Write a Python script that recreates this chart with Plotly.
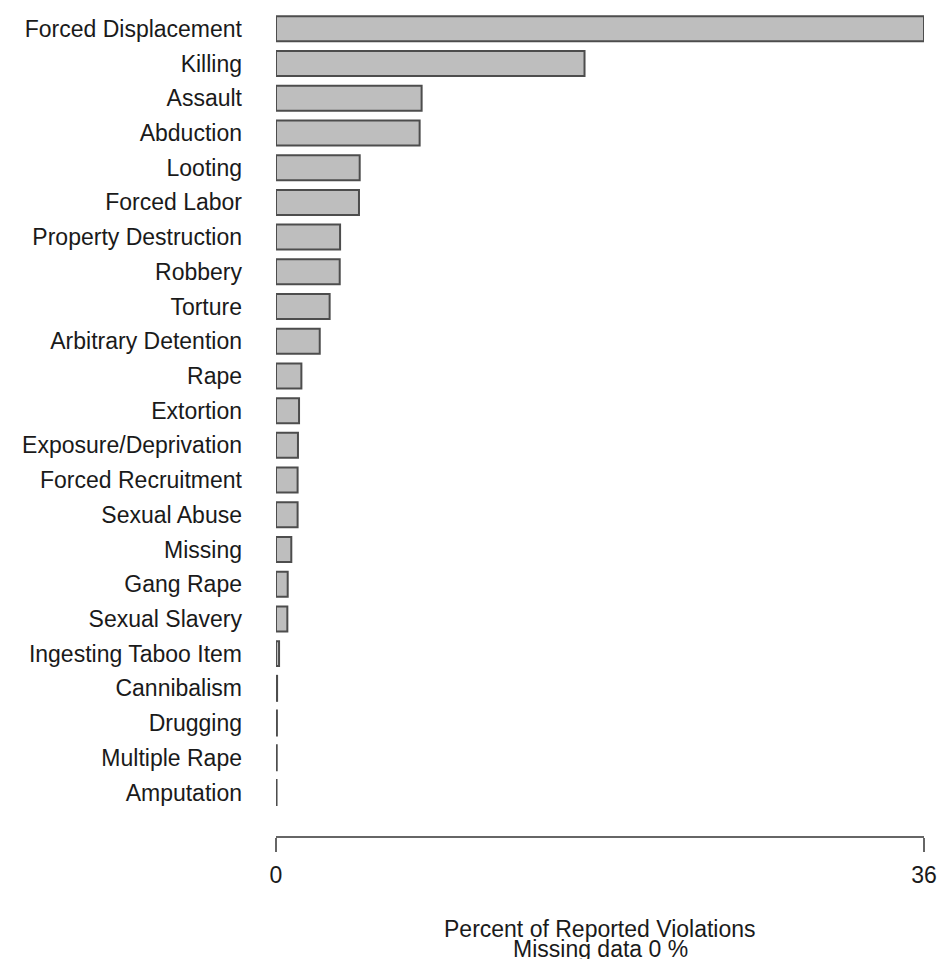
import plotly.graph_objects as go

categories = [
    "Forced Displacement", "Killing", "Assault", "Abduction", "Looting",
    "Forced Labor", "Property Destruction", "Robbery", "Torture",
    "Arbitrary Detention", "Rape", "Extortion", "Exposure/Deprivation",
    "Forced Recruitment", "Sexual Abuse", "Missing", "Gang Rape",
    "Sexual Slavery", "Ingesting Taboo Item", "Cannibalism", "Drugging",
    "Multiple Rape", "Amputation",
]
values = [
    36.0, 17.14, 8.09, 7.98, 4.65,
    4.61, 3.56, 3.54, 2.98,
    2.43, 1.41, 1.28, 1.22,
    1.20, 1.20, 0.85, 0.65,
    0.63, 0.17, 0.06, 0.05,
    0.04, 0.03,
]
tick_vals = [0, 36]
tick_text = ["0", "36"]
title_lines = ["Percent of Reported Violations", "Missing data 0 %"]

FONT = "Liberation Sans, Arial, Helvetica, sans-serif"
TXT = "#1a1a1a"

fig = go.Figure(
    go.Bar(
        x=values,
        y=categories,
        orientation="h",
        width=0.72,
        marker=dict(color="#BEBEBE", line=dict(color="#4D4D4D", width=2)),
        cliponaxis=False,
        hoverinfo="x+y",
    )
)

H = 959
mt, mb = 8, 123
plot_h = H - mt - mb

fig.update_layout(
    width=939,
    height=959,
    margin=dict(l=276, r=15, t=mt, b=mb, pad=0, autoexpand=False),
    paper_bgcolor="white",
    plot_bgcolor="white",
    showlegend=False,
    font=dict(family=FONT, size=23, color=TXT),
    xaxis=dict(
        range=[0, 36],
        tickvals=tick_vals,
        ticktext=tick_text,
        ticks="outside",
        ticklen=14,
        tickwidth=2,
        tickcolor="#666666",
        showline=True,
        linecolor="#666666",
        linewidth=2,
        showgrid=False,
        zeroline=False,
        automargin=False,
        ticklabelstandoff=3,
        tickfont=dict(family=FONT, size=23, color=TXT),
    ),
    yaxis=dict(
        type="category",
        categoryorder="array",
        categoryarray=categories,
        range=[23.254, -0.6],
        showline=False,
        showgrid=False,
        zeroline=False,
        automargin=False,
        ticks="",
        ticklabelstandoff=33,
        tickfont=dict(family=FONT, size=23, color=TXT),
    ),
)

# Two-line axis title placed as annotations (tight line spacing as in reference)
for txt, py in zip(title_lines, [929, 949]):
    fig.add_annotation(
        text=txt,
        xref="paper", yref="paper",
        x=0.5, y=(H - mb - py) / plot_h,
        xanchor="center", yanchor="middle",
        showarrow=False,
        font=dict(family=FONT, size=23, color=TXT),
    )

fig.write_html(
    "out.html",
    config={"displayModeBar": False},
    post_script="document.body.style.margin='0';document.body.style.overflow='hidden';",
)
